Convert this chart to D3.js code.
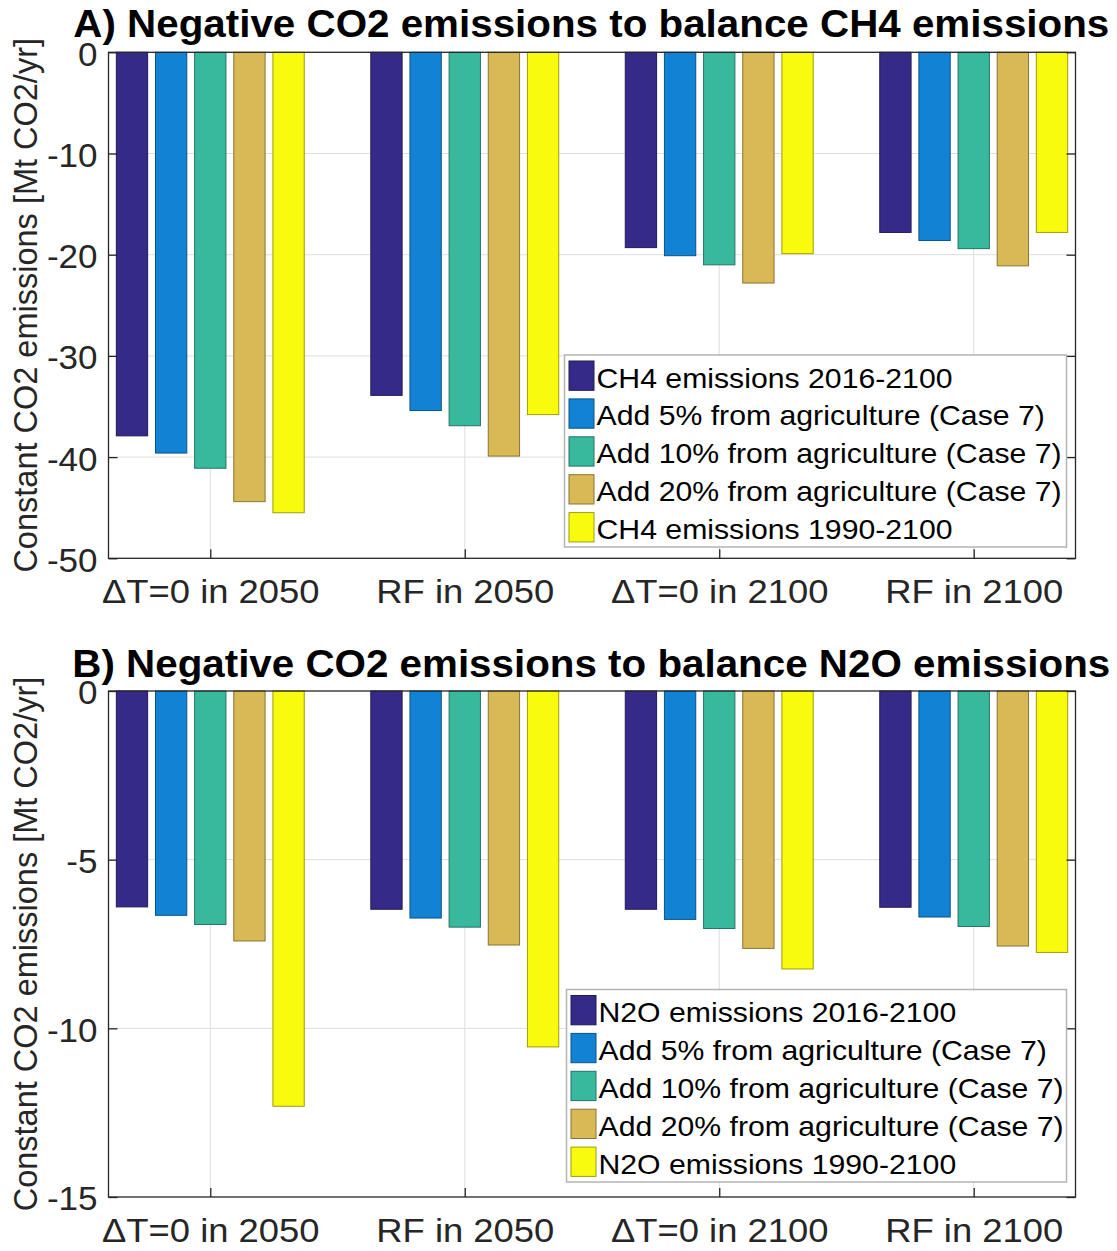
<!DOCTYPE html>
<html>
<head>
<meta charset="utf-8">
<script src="https://cdn.jsdelivr.net/npm/d3@7"></script>
<style>
  html, body { margin: 0; padding: 0; background: #fff; }
  svg { display: block; }
  svg text { font-family: "Liberation Sans", Arial, Helvetica, sans-serif; }
</style>
</head>
<body>
<svg id="fig" width="1117" height="1251"></svg>
<script>
// Scenario groups along the x axis
const categories = ["\u0394T=0 in 2050", "RF in 2050", "\u0394T=0 in 2100", "RF in 2100"];

// Legend entries for each panel
const ch4Series = [
  "CH4 emissions 2016-2100",
  "Add 5% from agriculture (Case 7)",
  "Add 10% from agriculture (Case 7)",
  "Add 20% from agriculture (Case 7)",
  "CH4 emissions 1990-2100"
];
const n2oSeries = [
  "N2O emissions 2016-2100",
  "Add 5% from agriculture (Case 7)",
  "Add 10% from agriculture (Case 7)",
  "Add 20% from agriculture (Case 7)",
  "N2O emissions 1990-2100"
];

// Constant negative CO2 emissions [Mt CO2/yr], one row per series, one column per scenario
const ch4Values = [
  [-37.9, -33.9, -19.3, -17.8],
  [-39.6, -35.4, -20.1, -18.6],
  [-41.1, -36.9, -21.0, -19.4],
  [-44.4, -39.9, -22.8, -21.1],
  [-45.5, -35.8, -19.9, -17.8]
];
const n2oValues = [
  [-6.40, -6.47, -6.47, -6.41],
  [-6.65, -6.73, -6.77, -6.70],
  [-6.92, -7.00, -7.04, -6.98],
  [-7.41, -7.53, -7.63, -7.56],
  [-12.31, -10.55, -8.24, -7.75]
];

// Y axis tick values
const ch4Ticks = [-50, -40, -30, -20, -10, 0];
const n2oTicks = [-15, -10, -5, 0];

const seriesColors = ["#352A87", "#1283D4", "#38B99E", "#D9B955", "#F9FB0E"];

const yLabel = "Constant CO2 emissions [Mt CO2/yr]";
const axisColor = "#262626";

const svg = d3.select("#fig");

// stretch text slightly wider than its natural width
function widen(sel, k) {
  sel.each(function () {
    const w = this.getComputedTextLength();
    this.setAttribute("textLength", w * k);
    this.setAttribute("lengthAdjust", "spacingAndGlyphs");
  });
}

function panel(cfg) {
  const g = svg.append("g");
  const x = d3.scaleLinear().domain([0.6, 4.4]).range([cfg.left, cfg.right]);
  const y = d3.scaleLinear().domain([cfg.ticks[0], 0]).range([cfg.bottom, cfg.top]);

  const nS = cfg.values.length;
  const groupWidth = Math.min(0.8, nS / (nS + 1.5));
  const step = groupWidth / nS;
  const barW = step * 0.8;
  const groupPos = categories.map((_, i) => i + 1);

  // grid
  g.append("g").selectAll("line").data(cfg.ticks.slice(1, -1)).join("line")
    .attr("x1", cfg.left).attr("x2", cfg.right)
    .attr("y1", d => y(d)).attr("y2", d => y(d))
    .attr("stroke", "#dedede").attr("stroke-width", 1);
  g.append("g").selectAll("line").data(groupPos).join("line")
    .attr("x1", d => x(d)).attr("x2", d => x(d))
    .attr("y1", cfg.top).attr("y2", cfg.bottom)
    .attr("stroke", "#dedede").attr("stroke-width", 1);

  // bars
  cfg.values.forEach((row, s) => {
    const col = seriesColors[s];
    g.append("g").selectAll("rect").data(row).join("rect")
      .attr("x", (d, i) => x(groupPos[i] + (s - (nS - 1) / 2) * step - barW / 2))
      .attr("width", x(barW) - x(0))
      .attr("y", d => y(Math.max(0, d)))
      .attr("height", d => Math.abs(y(d) - y(0)))
      .attr("fill", col)
      .attr("stroke", d3.color(col).darker(1.3))
      .attr("stroke-width", 1);
  });

  // axes
  const fs = 34;
  const fmt = d => String(d);
  const left = g.append("g").attr("transform", `translate(${cfg.left},0)`)
    .call(d3.axisLeft(y).tickValues(cfg.ticks).tickFormat(fmt).tickSize(-9).tickPadding(11));
  const right = g.append("g").attr("transform", `translate(${cfg.right},0)`)
    .call(d3.axisRight(y).tickValues(cfg.ticks).tickFormat("").tickSize(-9));
  const bottom = g.append("g").attr("transform", `translate(0,${cfg.bottom})`)
    .call(d3.axisBottom(x).tickValues(groupPos).tickFormat((d, i) => categories[i]).tickSize(-9).tickPadding(20.5));
  [left, right, bottom].forEach(a => {
    a.select(".domain").remove();
    a.selectAll(".tick line").attr("stroke", axisColor).attr("stroke-width", 1.3);
    a.selectAll(".tick text").attr("fill", axisColor).style("font-size", fs + "px");
  });
  left.selectAll(".tick text").attr("dy", "0.38em");
  widen(left.selectAll(".tick text"), 1.03);
  widen(bottom.selectAll(".tick text"), 1.07);

  g.append("rect")
    .attr("x", cfg.left).attr("y", cfg.top)
    .attr("width", cfg.right - cfg.left).attr("height", cfg.bottom - cfg.top)
    .attr("fill", "none").attr("stroke", axisColor).attr("stroke-width", 1.3);

  // y label
  g.append("text")
    .attr("transform", `translate(37,${(cfg.top + cfg.bottom) / 2}) rotate(-90)`)
    .attr("text-anchor", "middle")
    .attr("fill", axisColor)
    .style("font-size", "32.5px")
    .text(yLabel);

  // title
  g.append("text")
    .attr("x", 591.3).attr("y", cfg.titleY)
    .attr("text-anchor", "middle")
    .attr("fill", "#000")
    .style("font-size", "38px").style("font-weight", "bold")
    .attr("textLength", cfg.titleW).attr("lengthAdjust", "spacingAndGlyphs")
    .text(cfg.title);

  // legend
  const L = cfg.legend;
  const lg = g.append("g").attr("transform", `translate(${L.x},${L.y})`);
  lg.append("rect").attr("width", L.w).attr("height", L.h)
    .attr("fill", "#fff").attr("stroke", "#b4b4b4").attr("stroke-width", 1.5);
  const rows = lg.selectAll("g").data(cfg.series).join("g")
    .attr("transform", (d, i) => `translate(0,${i * 37.9})`);
  rows.append("rect")
    .attr("x", 4.5).attr("y", 6).attr("width", 25).attr("height", 29.3)
    .attr("fill", (d, i) => seriesColors[i])
    .attr("stroke", (d, i) => d3.color(seriesColors[i]).darker(1.3))
    .attr("stroke-width", 1);
  const lt = rows.append("text")
    .attr("x", 32).attr("y", 32.5)
    .attr("fill", "#000")
    .style("font-size", "28.5px")
    .text(d => d);
  widen(lt, 1.06);
}

panel({
  title: "A) Negative CO2 emissions to balance CH4 emissions",
  titleY: 37.3, titleW: 1036,
  values: ch4Values, series: ch4Series, ticks: ch4Ticks,
  left: 108.5, right: 1075.5, top: 52.3, bottom: 558.3,
  legend: { x: 564.5, y: 355, w: 502, h: 192 }
});

panel({
  title: "B) Negative CO2 emissions to balance N2O emissions",
  titleY: 677, titleW: 1038,
  values: n2oValues, series: n2oSeries, ticks: n2oTicks,
  left: 108.5, right: 1075.5, top: 691, bottom: 1197,
  legend: { x: 566.5, y: 989.5, w: 500, h: 192.5 }
});
</script>
</body>
</html>
